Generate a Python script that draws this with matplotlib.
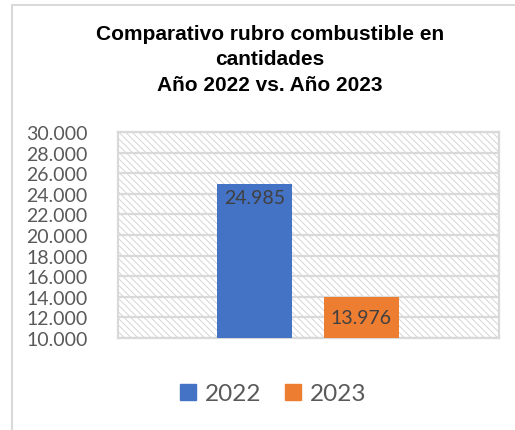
import matplotlib.pyplot as plt
from matplotlib.patches import Rectangle
from matplotlib.ticker import FuncFormatter

# datos del grafico
anios = ["2022", "2023"]
cantidades = [24985, 13976]
colores = ["#4472C4", "#ED7D31"]
ticks_y = list(range(10000, 30001, 2000))

titulo = "Comparativo rubro combustible en\ncantidades\nAño 2022 vs. Año 2023"

fig = plt.figure(figsize=(5.15, 4.31), dpi=100)
fig.patch.set_facecolor("white")

# marco del area del grafico
fig.patches.append(Rectangle((12 / 515, -0.1), 1.2, 1 - 6 / 431 + 0.1, transform=fig.transFigure,
                             fill=False, edgecolor="#D9D9D9", linewidth=1.5))

ax = fig.add_axes([118 / 515, 1 - 339 / 431, 381 / 515, 206 / 431])
ax.set_xlim(-0.5, 0.5)
ax.set_ylim(10000, 30000)

# fondo con trama diagonal
plt.rcParams["hatch.linewidth"] = 0.7
ax.add_patch(Rectangle((0, 0), 1, 1, transform=ax.transAxes, facecolor="white",
                       edgecolor="#D6D6D6", hatch="\\\\\\\\\\", linewidth=0, zorder=0))

for t in ticks_y:
    ax.axhline(t, color="#D9D9D9", linewidth=1.6, zorder=1)

desplaz = [-0.1417, 0.139]
ancho = 0.197
for i in range(len(anios)):
    ax.bar(desplaz[i], cantidades[i] - 10000, bottom=10000, width=ancho, color=colores[i], zorder=3, label=anios[i])

# etiquetas de datos
ax.text(desplaz[0], cantidades[0] - 1300, f"{cantidades[0]:,}".replace(",", "."), ha="center", va="center",
        fontsize=14, family="Lato", color="#404040", zorder=4)
ax.text(desplaz[1], (cantidades[1] + 10000) / 2, f"{cantidades[1]:,}".replace(",", "."), ha="center", va="center",
        fontsize=14, family="Lato", color="#404040", zorder=4)

ax.set_yticks(ticks_y)
ax.yaxis.set_major_formatter(FuncFormatter(lambda v, p: f"{int(v):,}".replace(",", ".")))
ax.set_xticks([])
ax.tick_params(axis="y", length=0, pad=22, labelsize=14, labelcolor="#595959")
for lbl in ax.get_yticklabels():
    lbl.set_family("Lato")
for s in ax.spines.values():
    s.set_color("#D9D9D9")
    s.set_linewidth(1.6)

fig.text(270 / 515, 1 - 60 / 431, titulo, ha="center", va="center", fontsize=15, fontweight="bold",
         family="Liberation Sans", linespacing=1.45, color="black")

handles = [Rectangle((0, 0), 1, 1, color=c) for c in colores]
leg = fig.legend(handles, anios, loc="center", bbox_to_anchor=(273 / 515, 1 - 395 / 431), ncol=2, frameon=False,
                 prop={"family": "Lato", "size": 17.5}, handlelength=0.67, handleheight=0.67,
                 handletextpad=0.37, columnspacing=0.95)
for t in leg.get_texts():
    t.set_color("#595959")

fig.savefig("out.png", dpi=100)
